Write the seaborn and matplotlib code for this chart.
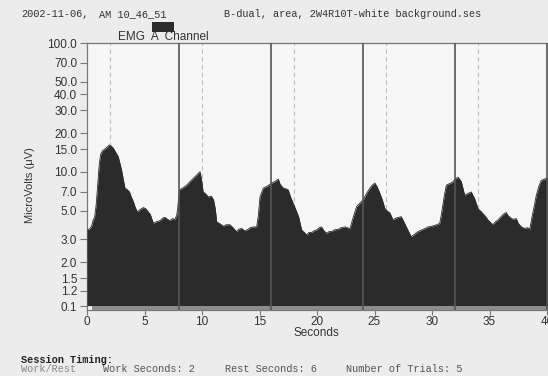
import matplotlib
matplotlib.use("Agg")
import matplotlib.pyplot as plt
from matplotlib.patches import Rectangle
import seaborn as sns
import pandas as pd

# EMG A channel
seconds = [0.0, 0.2, 0.4, 0.55, 0.65, 0.8, 0.95, 1.07, 1.2, 1.35, 1.6, 1.94, 2.1, 2.29, 2.5,
           2.72, 2.85, 3.0, 3.15, 3.3, 3.5, 3.7, 3.85, 4.03, 4.2, 4.38, 4.6, 4.9, 5.1, 5.33,
           5.5, 5.77, 6.0, 6.35, 6.6, 6.78, 7.0, 7.2, 7.45, 7.65, 7.8, 7.9, 8.03, 8.3, 8.67,
           9.0, 9.39, 9.6, 9.83, 9.95, 10.1, 10.3, 10.55, 10.8, 11.0, 11.15, 11.28, 11.5, 11.86,
           12.1, 12.43, 12.7, 13.0, 13.2, 13.45, 13.7, 13.9, 14.2, 14.46, 14.75, 14.9, 15.04,
           15.33, 15.6, 15.8, 16.06, 16.3, 16.64, 16.8, 17.07, 17.3, 17.5, 17.7, 17.94, 18.2,
           18.4, 18.67, 18.9, 19.1, 19.3, 19.55, 19.75, 19.97, 20.2, 20.4, 20.6, 20.84, 21.05,
           21.27, 21.5, 21.86, 22.1, 22.43, 22.6, 22.87, 23.0, 23.16, 23.45, 23.7, 24.03, 24.3,
           24.6, 24.8, 25.04, 25.25, 25.48, 25.7, 25.9, 26.1, 26.35, 26.6, 26.9, 27.1, 27.33,
           27.5, 27.77, 28.0, 28.2, 28.5, 28.78, 29.1, 29.4, 29.65, 30.0, 30.4, 30.67, 30.8,
           30.96, 31.1, 31.25, 31.5, 31.83, 32.0, 32.26, 32.4, 32.55, 32.7, 32.84, 33.1, 33.42,
           33.55, 33.7, 33.85, 34.0, 34.3, 34.58, 34.75, 34.87, 35.1, 35.3, 35.5, 35.74, 36.0,
           36.2, 36.46, 36.6, 36.9, 37.1, 37.33, 37.5, 37.77, 38.06, 38.3, 38.5, 38.7, 38.9,
           39.07, 39.3, 39.5, 39.9, 40.2]
microvolts = [3.55, 3.6, 3.8, 4.3, 4.4, 5.6, 8.5, 11.7, 13.8, 14.6, 15.2, 16.2, 15.9, 15.3, 14.2,
              13.1, 11.8, 10.4, 8.8, 7.5, 7.3, 7.0, 6.4, 5.9, 5.3, 4.9, 5.1, 5.3, 5.2, 4.9,
              4.7, 4.0, 4.1, 4.2, 4.4, 4.45, 4.3, 4.2, 4.35, 4.3, 4.6, 5.4, 7.25, 7.5, 7.9,
              8.5, 9.2, 9.6, 10.05, 8.8, 7.0, 6.8, 6.4, 6.5, 6.1, 5.2, 4.1, 4.0, 3.8,
              3.9, 3.9, 3.7, 3.45, 3.6, 3.65, 3.5, 3.55, 3.7, 3.75, 3.75, 4.6, 6.4,
              7.5, 7.7, 7.9, 8.2, 8.4, 8.8, 8.0, 7.5, 7.4, 7.25, 6.4, 5.7, 5.0,
              4.5, 3.55, 3.4, 3.25, 3.4, 3.4, 3.5, 3.55, 3.7, 3.75, 3.5, 3.35, 3.45,
              3.45, 3.55, 3.6, 3.7, 3.75, 3.7, 3.65, 4.0, 4.5, 5.4, 5.7, 6.1, 6.8,
              7.5, 7.9, 8.2, 7.6, 6.8, 6.0, 5.2, 5.0, 4.8, 4.25, 4.4, 4.45, 4.5,
              4.2, 3.75, 3.4, 3.15, 3.3, 3.45, 3.55, 3.65, 3.75, 3.8, 3.9, 4.0, 4.6,
              5.7, 6.8, 7.9, 8.1, 8.4, 8.8, 9.1, 8.8, 8.4, 7.4, 6.6, 6.8, 7.0,
              6.6, 6.25, 5.7, 5.2, 4.9, 4.6, 4.4, 4.25, 4.05, 3.9, 4.1, 4.25, 4.5,
              4.7, 4.85, 4.6, 4.35, 4.3, 4.35, 4.0, 3.75, 3.65, 3.7, 3.6, 4.5, 5.5,
              6.6, 7.8, 8.6, 8.9, 9.0]

work_starts = [8, 16, 24, 32, 40]
rest_starts = [2, 10, 18, 26, 34]

ytick_vals = [0.91, 1.2, 1.5, 2, 3, 5, 7, 10, 15, 20, 30, 40, 50, 70, 100]
ytick_labels = ["0.1", "1.2", "1.5", "2.0", "3.0", "5.0", "7.0", "10.0", "15.0", "20.0",
                "30.0", "40.0", "50.0", "70.0", "100.0"]
xtick_vals = [0, 5, 10, 15, 20, 25, 30, 35, 40]

df = pd.DataFrame({"Seconds": seconds, "MicroVolts": microvolts})

sns.set_style("white")
plt.rcParams["font.family"] = ["Liberation Sans", "DejaVu Sans"]

W, H = 548, 376
fig = plt.figure(figsize=(W / 100, H / 100), dpi=100, facecolor="#ececed")
ax = fig.add_axes([87 / W, (H - 310) / H, 506 / W, 267 / H])
ax.set_facecolor("#f6f6f6")

ax.set_yscale("log")
ax.set_xlim(0, 44)
ax.set_ylim(0.851, 100)

floor = 0.92
ax.fill_between(df["Seconds"], df["MicroVolts"], floor, color="#2b2b2b", lw=0, zorder=3)
sns.lineplot(data=df, x="Seconds", y="MicroVolts", ax=ax, color="#2b2b2b", lw=0.6,
             zorder=3, estimator=None, sort=False)
ax.axhspan(0.851, floor, xmin=0.4 / 44, color="#8c8c8c", lw=0, zorder=3)

for t in rest_starts:
    ax.axvline(t, color="#bdbdbd", lw=0.8, dashes=(4, 3), zorder=2)
for t in work_starts:
    ax.axvline(t, color="#555555", lw=1.2, zorder=4)

ax.set_yticks(ytick_vals)
ax.set_yticklabels(ytick_labels)
ax.yaxis.set_minor_locator(matplotlib.ticker.NullLocator())
ax.set_xticks(xtick_vals)
ax.tick_params(axis="both", direction="out", width=0.8, color="#777777",
               labelsize=8.5, labelcolor="#333333")
ax.tick_params(axis="y", left=True, length=5, pad=2)
ax.tick_params(axis="x", bottom=True, length=3.5, pad=1)
ax.set_xlabel("")
ax.set_ylabel("")
for side in ["left", "top", "bottom"]:
    ax.spines[side].set_color("#777777")
    ax.spines[side].set_linewidth(0.9)
ax.spines["right"].set_visible(False)

fig.text(316 / W, 1 - 333 / H, "Seconds", ha="center", va="center", fontsize=8.5, color="#333333")
fig.text(30 / W, 1 - 185 / H, "MicroVolts (\u03bcV)", rotation=90, ha="center", va="center",
         fontsize=8, color="#333333")
fig.text(163 / W, 1 - 37 / H, "EMG  A  Channel", ha="center", va="center", fontsize=8.5,
         color="#333333")
fig.patches.append(Rectangle((152 / W, 1 - 32 / H), 22 / W, 10 / H, transform=fig.transFigure,
                             color="#2b2b2b", lw=0))

mono = dict(family="Liberation Mono", fontsize=7.4, color="#333333", va="center")
fig.text(21 / W, 1 - 14 / H, "2002-11-06,", **mono)
fig.text(99 / W, 1 - 14 / H, "AM 10_46_51", **mono)
fig.text(224 / W, 1 - 14 / H, "B-dual, area, 2W4R10T-white background.ses", **mono)

fig.text(21 / W, 1 - 360 / H, "Session Timing:", family="Liberation Mono", fontsize=7.4,
         color="#222222", weight="bold", va="center")
fig.text(21 / W, 1 - 369 / H, "Work/Rest", family="Liberation Mono", fontsize=7.4,
         color="#888888", va="center")
fig.text(103 / W, 1 - 369 / H, "Work Seconds: 2", family="Liberation Mono", fontsize=7.4,
         color="#555555", va="center")
fig.text(225 / W, 1 - 369 / H, "Rest Seconds: 6", family="Liberation Mono", fontsize=7.4,
         color="#555555", va="center")
fig.text(346 / W, 1 - 369 / H, "Number of Trials: 5", family="Liberation Mono", fontsize=7.4,
         color="#555555", va="center")

fig.savefig("out.png", dpi=100, facecolor=fig.get_facecolor())
